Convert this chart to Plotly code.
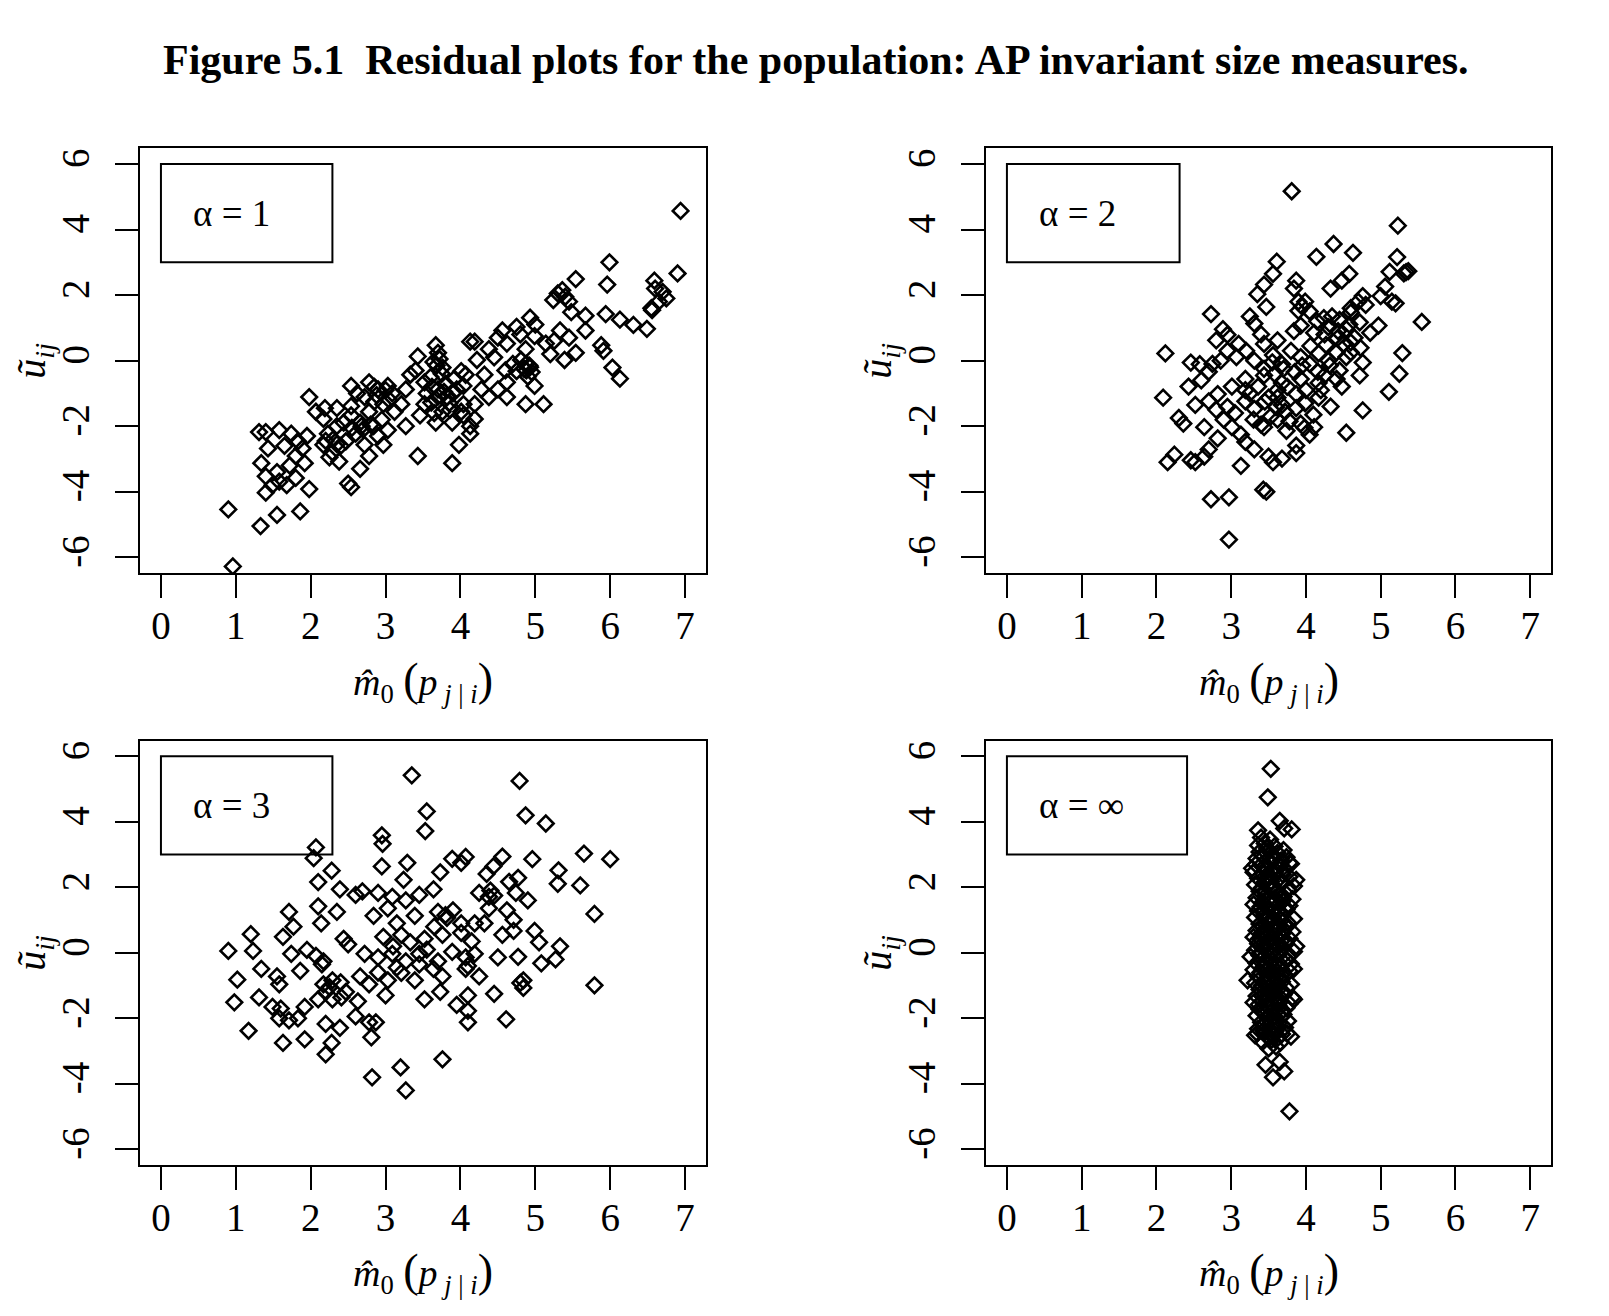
import plotly.graph_objects as go

title_text = "<b>Figure 5.1\u00a0 Residual plots for the population: AP invariant size measures.</b>"
panel_labels = ["α = 1", "α = 2", "α = 3", "α = ∞"]
x_ticks = [0, 1, 2, 3, 4, 5, 6, 7]
y_ticks = [-6, -4, -2, 0, 2, 4, 6]
y_ticktext = ["-6", "-4", "-2", "0", "2", "4", "6"]
x_title = ("<i>m\u0302</i><sub>0</sub> <span style='font-size:46px'>(</span><i>p</i>"
           "<sub> <i>j</i> | <i>i</i></sub><span style='font-size:46px'>)</span>")
y_title = "<i>u\u0303</i><sub><i>ij</i></sub>"

pts_alpha1 = [
    (0.90, -4.54), (0.96, -6.28), (1.33, -5.05), (1.55, -4.71), (1.86, -4.60),
    (1.31, -2.18), (1.40, -2.18), (1.43, -2.68), (1.34, -3.13), (1.40, -3.53), (1.49, -3.80),
    (1.40, -4.03), (1.58, -2.12), (1.74, -2.23), (1.83, -2.46), (1.89, -2.68), (1.80, -2.91),
    (1.92, -3.13), (1.80, -3.58), (1.98, -3.92), (1.68, -3.80), (1.58, -3.69), (1.65, -2.60),
    (1.72, -3.20), (1.55, -3.40), (1.95, -2.30), (1.98, -1.11),
    (2.07, -1.56), (2.19, -1.45), (2.17, -1.78), (2.23, -2.23), (2.17, -2.57), (2.29, -2.80),
    (2.38, -3.08), (2.35, -2.00), (2.44, -1.89), (2.54, -1.67), (2.35, -1.45), (2.30, -2.40),
    (2.25, -2.95), (2.40, -2.60),
    (2.54, -0.77), (2.78, -0.66), (2.90, -0.88), (3.03, -0.77), (3.09, -1.00), (2.72, -1.11),
    (2.54, -1.39), (2.78, -1.56), (2.97, -1.33), (3.12, -1.56), (2.66, -1.89), (2.84, -2.00),
    (3.03, -2.12), (2.60, -2.23), (2.47, -2.46), (2.72, -2.57), (2.97, -2.57), (2.78, -2.91),
    (2.66, -3.30), (2.50, -3.75), (2.54, -3.86), (2.62, -1.00), (2.85, -1.25), (2.95, -1.80),
    (2.70, -2.10), (2.55, -2.05), (2.90, -2.30), (3.00, -0.90), (2.85, -0.80), (3.05, -1.20),
    (3.67, 0.47), (3.70, 0.24), (3.64, -0.04), (3.43, 0.13), (3.76, -0.21), (3.33, -0.43),
    (3.52, -0.66), (3.27, -0.88), (3.70, -0.88), (3.82, -1.11), (3.61, -1.28), (3.95, -0.88),
    (4.04, -1.33), (3.76, -1.56), (3.67, -1.89), (3.89, -1.89), (4.04, -1.67), (4.13, -2.00),
    (4.19, -1.78), (3.46, -1.67), (3.27, -2.00), (3.43, -2.91), (3.89, -3.13), (3.98, -2.57),
    (4.13, -2.23), (3.52, -1.33), (3.21, -1.33), (3.92, -0.55), (4.07, -0.43), (3.75, -0.40),
    (3.80, -0.70), (3.60, -0.50), (3.85, -1.30), (3.70, -1.10), (3.55, -1.00), (3.40, -0.30),
    (3.72, 0.05), (3.90, -1.00), (3.65, -1.60),
    (4.22, 0.02), (4.19, 0.58), (4.13, 0.58), (4.32, -0.43), (4.01, -0.32), (4.04, -0.77),
    (4.19, -1.33), (4.01, -1.56), (4.28, -0.88), (4.38, -1.11), (4.38, 0.35), (4.50, 0.70),
    (4.56, 0.92), (4.62, 0.52), (4.75, 1.03), (4.93, 1.31), (4.99, 0.75), (5.14, 0.52),
    (4.87, 0.35), (4.81, 0.02), (4.93, -0.20), (4.75, -0.32), (4.90, -0.49), (4.62, -0.66),
    (4.99, -0.77), (4.50, -0.88), (4.62, -1.11), (4.87, -1.33), (4.85, -0.25), (4.95, -0.35),
    (4.70, -0.10), (4.80, 0.80), (5.00, 1.10), (4.45, 0.10), (4.60, -0.30), (4.88, -0.10),
    (5.11, -1.33), (5.33, 0.92), (5.54, 0.24), (5.39, 0.02), (5.67, 0.92), (5.88, 0.47),
    (5.91, 0.30), (6.03, -0.21), (6.13, -0.55), (5.48, 1.48), (5.67, 1.37), (5.94, 1.42),
    (6.13, 1.25), (6.31, 1.09), (6.49, 0.97), (5.24, 1.85), (5.30, 2.05), (5.36, 2.15),
    (5.40, 1.95), (5.45, 1.80), (5.54, 2.49), (5.99, 3.00), (5.96, 2.32), (6.59, 2.44),
    (6.70, 2.10), (6.65, 1.80), (6.55, 1.60), (6.56, 1.54), (6.90, 2.66), (6.94, 4.57),
    (6.60, 2.20), (6.75, 1.90), (5.25, 0.60), (5.45, 0.70), (5.20, 0.20),
    (3.68, -0.15), (3.78, -0.95), (3.62, -0.80), (3.86, -1.50), (2.80, -1.95), (2.68, -2.00),
    (2.88, -1.05), (4.88, -0.30), (4.92, -0.15), (2.35, -2.55), (2.20, -2.45),
]

pts_alpha2 = [
    (3.81, 5.17), (5.23, 4.12), (4.37, 3.56), (4.14, 3.17), (4.63, 3.29), (3.61, 3.02),
    (5.22, 3.16), (5.37, 2.73), (5.31, 2.66), (5.34, 2.70), (5.12, 2.71), (3.56, 2.65),
    (3.44, 2.32), (3.35, 2.03), (4.58, 2.65), (4.48, 2.44), (4.33, 2.20), (3.87, 2.44),
    (3.84, 2.20), (5.06, 2.26), (5.00, 1.97), (5.15, 1.80), (5.20, 1.75), (4.76, 1.97),
    (3.47, 1.64), (3.99, 1.80), (3.90, 1.52), (2.73, 1.42), (3.25, 1.35), (3.31, 1.13),
    (5.55, 1.18), (4.97, 1.07), (3.93, 1.07), (4.24, 1.30), (4.30, 1.02), (4.45, 1.24),
    (4.60, 1.47), (4.54, 0.96), (2.89, 0.96), (2.95, 0.79), (2.80, 0.62), (3.10, 0.51),
    (3.44, 0.51), (3.62, 0.62), (3.84, 0.90), (4.11, 0.85), (4.42, 0.68), (4.60, 0.56),
    (4.73, 0.39),
    (2.12, 0.22), (2.46, -0.06), (2.58, -0.11), (2.70, -0.34), (2.86, 0.00), (3.07, 0.11),
    (3.31, 0.00), (3.56, 0.17), (3.68, -0.11), (3.93, 0.11), (4.17, 0.22), (4.30, 0.00),
    (4.54, 0.11), (4.76, -0.06), (5.29, 0.23), (5.25, -0.40), (5.11, -0.95), (4.76, -1.52),
    (4.54, -2.20), (4.33, -1.40), (4.48, -0.79), (4.17, -0.68), (3.93, -0.56), (3.68, -0.68),
    (3.44, -0.45), (3.19, -0.56), (3.01, -0.79), (2.82, -1.02), (2.43, -0.79), (2.09, -1.13),
    (2.52, -1.35), (2.70, -1.24), (2.95, -1.41), (3.19, -1.24), (3.31, -1.47), (3.50, -1.13),
    (3.68, -1.35), (3.87, -1.02), (3.99, -1.30), (4.17, -1.13),
    (2.30, -1.75), (2.36, -1.92), (2.64, -2.03), (2.82, -2.37), (3.01, -2.03), (3.13, -2.26),
    (3.19, -2.48), (3.31, -2.71), (3.44, -2.03), (3.62, -1.80), (3.74, -2.14), (3.93, -1.92),
    (4.05, -2.26), (4.11, -2.03), (3.87, -2.59), (3.87, -2.82), (3.68, -2.99), (3.56, -3.10),
    (3.50, -2.93), (2.70, -2.71), (2.64, -2.93), (2.52, -3.10), (2.46, -3.04), (2.15, -3.10),
    (2.24, -2.87), (3.13, -3.21), (2.73, -4.23), (2.97, -4.17), (3.43, -3.94), (3.47, -4.00),
    (2.97, -5.46),
    (3.44, -0.25), (3.58, -0.40), (3.70, -0.25), (3.95, -0.15), (4.16, -0.34), (4.32, -0.15),
    (4.41, 0.25), (4.60, 0.25), (4.27, 0.48), (4.43, 0.90), (4.58, 1.10), (4.72, 1.17),
    (4.35, 1.35), (4.06, 0.45), (3.62, -0.90), (3.36, -0.79), (3.19, -0.90), (3.53, -1.70),
    (3.62, -1.13), (3.87, -1.45), (3.72, -1.56), (3.60, -1.42), (4.00, -0.90), (4.20, -0.90),
    (4.41, -0.56), (4.72, -0.45), (4.86, 0.85), (4.80, 1.70), (4.70, 1.80), (4.60, 1.60),
    (3.90, 1.80), (3.95, 1.65), (4.05, 1.50), (4.15, 1.20), (4.25, 0.80), (4.50, 0.50),
    (4.65, 0.70), (3.30, -1.80), (3.40, -1.95), (3.05, -1.60), (2.90, -1.80), (2.80, -1.50),
    (2.60, -0.60), (2.75, -0.10), (2.95, 0.30), (3.20, 0.30), (3.40, 0.80), (3.55, -0.05),
    (3.80, 0.30), (3.85, -0.35), (4.05, -0.10), (4.25, -0.45), (4.45, -0.30), (3.25, -1.00),
    (3.45, -1.25), (3.75, -0.80), (3.78, -1.85), (4.10, -1.65), (3.98, -2.05),
]

pts_alpha3 = [
    (3.35, 5.42), (4.79, 5.25), (3.55, 4.32), (3.53, 3.72), (4.87, 4.20), (5.14, 3.95),
    (2.95, 3.59), (2.96, 3.33), (2.07, 3.22), (2.04, 2.89), (2.95, 2.64), (3.29, 2.75),
    (2.28, 2.51), (3.89, 2.87), (4.07, 2.93), (4.01, 2.75), (4.56, 2.94), (4.96, 2.86),
    (5.65, 3.03), (6.00, 2.86), (5.31, 2.52), (5.30, 2.11), (5.60, 2.06), (4.35, 2.41),
    (4.44, 2.64), (3.73, 2.46), (3.24, 2.23), (2.10, 2.16), (2.39, 1.94), (2.60, 1.77),
    (2.69, 1.88), (2.90, 1.83), (3.09, 1.71), (3.27, 1.60), (3.45, 1.77), (3.64, 1.94),
    (4.25, 1.83), (4.38, 1.71), (4.65, 2.17), (4.77, 2.29), (4.74, 1.83), (4.90, 1.60),
    (4.38, 1.36), (4.62, 1.30), (5.79, 1.19), (1.71, 1.25), (2.10, 1.42), (2.35, 1.25),
    (2.84, 1.13), (3.03, 1.36), (3.15, 0.90), (3.39, 1.13), (3.70, 1.25), (3.82, 1.07),
    (4.01, 0.90), (4.19, 0.90), (4.32, 0.90), (4.71, 1.01), (2.14, 0.90), (1.77, 0.80),
    (1.20, 0.57), (1.63, 0.49), (2.44, 0.43), (2.50, 0.26), (2.97, 0.49), (3.21, 0.55),
    (3.33, 0.32), (3.52, 0.43), (3.76, 0.55), (4.01, 0.61), (4.56, 0.55), (4.71, 0.67),
    (4.99, 0.67), (5.05, 0.32), (5.33, 0.20), (0.90, 0.06), (1.23, 0.06), (1.74, -0.03),
    (1.95, 0.09), (2.07, -0.09), (2.17, -0.26), (2.72, -0.03), (2.90, -0.14), (3.09, -0.03),
    (3.27, -0.26), (3.45, -0.03), (3.70, -0.26), (3.89, 0.03), (4.07, -0.14), (4.19, -0.03),
    (4.50, -0.14), (4.77, -0.12), (5.08, -0.32), (5.27, -0.20), (1.34, -0.49), (1.55, -0.72),
    (1.58, -0.96), (1.86, -0.55), (2.17, -0.96), (2.29, -0.84), (2.47, -1.19), (2.66, -0.72),
    (2.78, -0.96), (3.03, -0.84), (3.21, -0.61), (3.39, -0.84), (3.64, -0.49), (3.76, -0.72),
    (4.07, -0.49), (4.25, -0.72), (4.84, -0.84), (4.84, -1.07), (5.79, -0.99), (1.02, -0.82),
    (0.98, -1.51), (1.31, -1.36), (1.49, -1.65), (1.58, -2.00), (1.71, -2.06), (1.83, -2.00),
    (1.92, -1.65), (2.10, -1.42), (2.29, -1.42), (2.41, -1.36), (2.63, -1.48), (3.00, -1.30),
    (3.73, -1.19), (4.10, -1.30), (4.45, -1.25), (3.52, -1.42), (3.95, -1.59), (4.10, -1.77),
    (4.10, -2.12), (4.61, -2.03), (2.60, -1.94), (2.78, -2.12), (2.87, -2.12), (2.20, -2.17),
    (2.39, -2.29), (1.17, -2.38), (1.63, -2.75), (1.92, -2.64), (2.28, -2.75), (2.20, -3.10),
    (2.81, -2.58), (3.76, -3.25), (3.20, -3.50), (2.82, -3.80), (3.27, -4.20),
    (2.15, -0.35), (2.25, -1.05), (2.20, -1.20), (1.60, -1.70), (3.10, 0.20), (3.55, 0.10),
    (3.65, 0.80), (3.90, 1.30), (3.80, 1.15), (4.40, 1.90), (4.45, 1.75), (4.10, -0.40),
    (3.45, -0.35), (3.15, -0.45), (2.90, -0.60), (2.40, -0.90), (4.80, -0.92), (4.15, 0.35),
]

pts_alpha_inf = [
    (3.53, 5.62), (3.49, 4.75), (3.65, 4.03), (3.71, 3.80), (3.81, 3.77), (3.36, 3.74),
    (3.78, -4.84), (3.46, -3.42), (3.56, -3.80), (3.65, -3.33), (3.71, -3.62), (3.28, 2.58),
    (3.87, 2.23), (3.22, -0.84), (3.84, -0.49), (3.87, 0.20), (3.78, 2.75), (3.75, -2.46),
    (3.35, -2.46), (3.84, -1.42),
    (3.40, 3.52), (3.52, 3.46), (3.36, 3.28), (3.45, 3.34), (3.58, 3.25), (3.38, 3.08),
    (3.50, 3.12), (3.62, 3.05), (3.70, 3.14), (3.34, 2.88), (3.44, 2.94), (3.56, 2.86),
    (3.74, 2.92), (3.40, 2.68), (3.52, 2.74), (3.66, 2.66), (3.80, 2.72), (3.30, 2.46),
    (3.46, 2.52), (3.58, 2.45), (3.72, 2.55), (3.36, 2.28), (3.50, 2.34), (3.64, 2.26),
    (3.78, 2.32), (3.32, 2.08), (3.44, 2.14), (3.56, 2.06), (3.68, 2.12), (3.84, 2.04),
    (3.38, 1.88), (3.52, 1.94), (3.62, 1.86), (3.76, 1.92), (3.34, 1.68), (3.46, 1.74),
    (3.58, 1.66), (3.70, 1.72), (3.82, 1.64), (3.30, 1.48), (3.42, 1.54), (3.54, 1.46),
    (3.66, 1.52), (3.78, 1.44), (3.36, 1.28), (3.50, 1.34), (3.62, 1.26), (3.74, 1.32),
    (3.32, 1.08), (3.44, 1.14), (3.56, 1.06), (3.68, 1.12), (3.84, 1.04), (3.38, 0.88),
    (3.52, 0.94), (3.64, 0.86), (3.76, 0.92), (3.34, 0.68), (3.46, 0.74), (3.58, 0.66),
    (3.70, 0.72), (3.82, 0.64), (3.30, 0.48), (3.42, 0.54), (3.54, 0.46), (3.66, 0.52),
    (3.78, 0.44), (3.36, 0.28), (3.48, 0.34), (3.60, 0.26), (3.72, 0.32), (3.32, 0.08),
    (3.44, 0.14), (3.56, 0.06), (3.68, 0.12), (3.84, 0.04), (3.26, -0.12), (3.38, -0.08),
    (3.50, -0.14), (3.62, -0.06), (3.76, -0.12), (3.34, -0.32), (3.46, -0.26), (3.58, -0.34),
    (3.70, -0.28), (3.80, -0.34), (3.30, -0.52), (3.42, -0.46), (3.54, -0.54), (3.66, -0.48),
    (3.78, -0.56), (3.36, -0.72), (3.48, -0.66), (3.60, -0.74), (3.72, -0.68), (3.32, -0.92),
    (3.44, -0.86), (3.56, -0.94), (3.68, -0.88), (3.80, -0.96), (3.38, -1.12), (3.50, -1.06),
    (3.62, -1.14), (3.74, -1.08), (3.34, -1.32), (3.46, -1.26), (3.58, -1.34), (3.70, -1.28),
    (3.82, -1.36), (3.30, -1.52), (3.42, -1.46), (3.54, -1.54), (3.66, -1.48), (3.78, -1.56),
    (3.38, -1.72), (3.50, -1.66), (3.62, -1.74), (3.74, -1.68), (3.34, -1.92), (3.46, -1.86),
    (3.58, -1.94), (3.70, -1.88), (3.40, -2.12), (3.52, -2.06), (3.64, -2.14), (3.76, -2.08),
    (3.36, -2.32), (3.48, -2.26), (3.60, -2.34), (3.72, -2.28), (3.32, -2.52), (3.44, -2.46),
    (3.56, -2.54), (3.68, -2.48), (3.80, -2.56), (3.42, -2.72), (3.54, -2.66), (3.66, -2.74),
    (3.50, -2.92), (3.60, -2.86),
    (3.41, 2.98), (3.47, 2.60), (3.59, 2.38), (3.53, 2.18), (3.41, 1.98), (3.65, 1.78),
    (3.49, 1.60), (3.39, 1.40), (3.59, 1.18), (3.47, 0.98), (3.63, 0.78), (3.41, 0.60),
    (3.51, 0.38), (3.63, 0.18), (3.39, 0.00), (3.55, -0.22), (3.45, -0.40), (3.61, -0.60),
    (3.51, -0.80), (3.41, -1.00), (3.57, -1.22), (3.49, -1.40), (3.63, -1.60), (3.43, -1.80),
    (3.55, -2.00), (3.45, -2.18), (3.59, -2.40), (3.51, -2.60), (3.67, 2.82), (3.71, 1.36),
    (3.73, -0.20), (3.69, -1.76), (3.35, 0.38), (3.37, -1.58), (3.33, 2.70), (3.75, 0.82),
    (3.48, 3.20), (3.55, 2.97), (3.61, 2.62), (3.43, 2.40), (3.69, 2.40), (3.47, 2.24),
    (3.57, 1.96), (3.45, 1.84), (3.69, 1.58), (3.55, 1.62), (3.43, 1.24), (3.55, 1.24),
    (3.67, 1.00), (3.51, 1.10), (3.43, 0.80), (3.57, 0.80), (3.69, 0.60), (3.49, 0.56),
    (3.39, 0.44), (3.57, 0.30), (3.67, 0.36), (3.45, 0.22), (3.53, 0.02), (3.65, -0.02),
    (3.41, -0.20), (3.63, -0.40), (3.49, -0.52), (3.39, -0.60), (3.55, -0.70), (3.67, -0.68),
    (3.45, -0.94), (3.61, -0.96), (3.53, -1.16), (3.69, -1.18), (3.41, -1.30), (3.61, -1.40),
    (3.47, -1.60), (3.55, -1.78), (3.67, -1.96), (3.49, -2.00), (3.57, -2.20), (3.43, -2.38),
    (3.63, -2.58), (3.53, -2.44),
]

panels = [pts_alpha1, pts_alpha2, pts_alpha3, pts_alpha_inf]
legend_box_right = [2.29, 2.31, 2.29, 2.41]

# panel geometry (paper fractions)
x_domains = [[0.0870, 0.4388], [0.6128, 0.9640], [0.0870, 0.4388], [0.6128, 0.9640]]
y_domains = [[0.5646, 0.8873], [0.5646, 0.8873], [0.1147, 0.4372], [0.1147, 0.4372]]

SERIF = "Liberation Serif"
fig = go.Figure()
layout = dict(
    width=1609, height=1316,
    margin=dict(l=0, r=0, t=0, b=0),
    paper_bgcolor="white", plot_bgcolor="white",
    showlegend=False,
    font=dict(family=SERIF, color="black"),
)
annotations = []
shapes = []

for i, pts in enumerate(panels):
    n = i + 1
    xs = [p[0] for p in pts]
    ys = [p[1] for p in pts]
    xa = "x" if n == 1 else f"x{n}"
    ya = "y" if n == 1 else f"y{n}"
    fig.add_trace(go.Scatter(
        x=xs, y=ys, mode="markers", xaxis=xa, yaxis=ya,
        marker=dict(symbol="diamond-open", size=12, color="black",
                    line=dict(width=2.6, color="black")),
        hoverinfo="skip",
    ))
    xkey = "xaxis" if n == 1 else f"xaxis{n}"
    ykey = "yaxis" if n == 1 else f"yaxis{n}"
    layout[xkey] = dict(
        domain=x_domains[i], anchor=ya, range=[-0.28, 7.28],
        tickmode="array", tickvals=x_ticks, ticktext=[str(v) for v in x_ticks],
        ticks="outside", ticklen=23, tickwidth=2, tickcolor="black",
        showline=True, linewidth=2, linecolor="black", mirror=True,
        showgrid=False, zeroline=False, ticklabelstandoff=-6,
        tickfont=dict(family=SERIF, size=39, color="black"),
    )
    layout[ykey] = dict(
        domain=y_domains[i], anchor=xa, range=[-6.48, 6.48],
        tickmode="array", tickvals=y_ticks, ticktext=y_ticktext,
        ticks="outside", ticklen=23, tickwidth=2, tickcolor="black",
        showline=True, linewidth=2, linecolor="black", mirror=True,
        showgrid=False, zeroline=False, tickangle=-90, ticklabelstandoff=10,
        tickfont=dict(family=SERIF, size=39, color="black"),
    )
    shapes.append(dict(type="rect", xref=xa, yref=ya, x0=0, x1=legend_box_right[i],
                       y0=3, y1=6, line=dict(color="black", width=2),
                       fillcolor="rgba(0,0,0,0)", layer="above"))
    annotations.append(dict(xref=xa, yref=ya, x=0.40, y=4.5, text=panel_labels[i],
                            showarrow=False, xanchor="left", yanchor="middle",
                            font=dict(family=SERIF, size=37, color="black")))
    xd = x_domains[i]
    yd = y_domains[i]
    annotations.append(dict(xref="paper", yref="paper", x=(xd[0] + xd[1]) / 2,
                            y=1 - 682 / 1316 if n <= 2 else 1 - 1272 / 1316,
                            text=x_title, showarrow=False, xanchor="center", yanchor="middle",
                            font=dict(family=SERIF, size=38, color="black")))
    annotations.append(dict(xref="paper", yref="paper", x=xd[0] - 106 / 1609,
                            y=(yd[0] + yd[1]) / 2, text=y_title, textangle=-90,
                            showarrow=False, xanchor="center", yanchor="middle",
                            font=dict(family=SERIF, size=40, color="black")))

annotations.append(dict(xref="paper", yref="paper", x=816 / 1609, y=1 - 60 / 1316,
                        text=title_text, showarrow=False, xanchor="center", yanchor="middle",
                        font=dict(family=SERIF, size=42, color="black")))

layout["annotations"] = annotations
layout["shapes"] = shapes
fig.update_layout(**layout)
fig.write_html("out.html")
